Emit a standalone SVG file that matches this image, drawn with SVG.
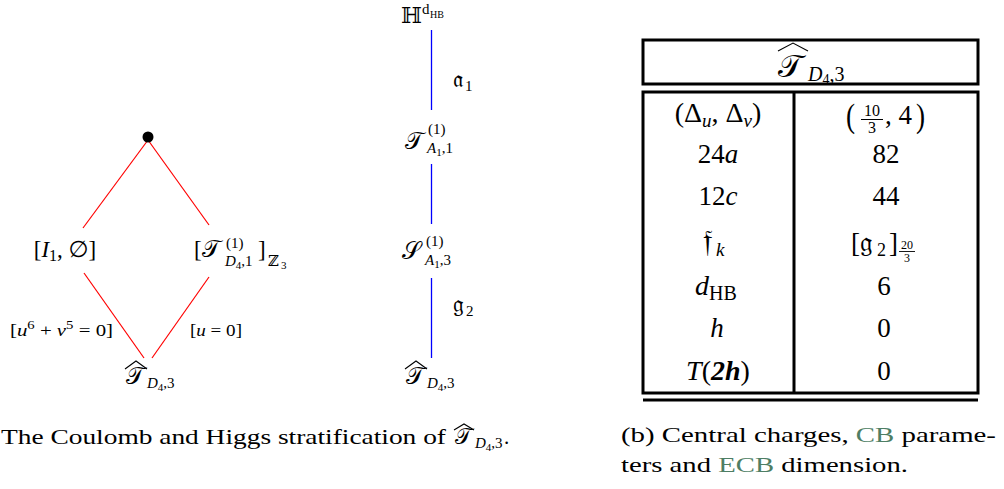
<svg xmlns="http://www.w3.org/2000/svg" width="1004" height="489" viewBox="0 0 1004 489">
<style>
text{font-family:"Liberation Serif","DejaVu Serif",serif;fill:#000}
.i{font-style:italic}
.sym{font-family:"DejaVu Serif","DejaVu Sans","Noto Sans",serif;font-style:normal}
.hat{fill:none;stroke:#000;stroke-width:1.1}
.red{stroke:#ff0000;stroke-width:1.2}
.blue{stroke:#0000ff;stroke-width:1.3}
.tb{fill:none;stroke:#000;stroke-width:3}
.grn{fill:#4e7e64}
</style>
<rect width="1004" height="489" fill="#fff"/>

<g id="connectors">
<line class="red" x1="148" y1="140" x2="83" y2="228"/>
<line class="red" x1="148" y1="140" x2="209" y2="225"/>
<line class="red" x1="84" y1="273" x2="144" y2="358"/>
<line class="red" x1="209" y1="277" x2="152" y2="358"/>
<line class="blue" x1="431.5" y1="30" x2="431.5" y2="110"/>
<line class="blue" x1="431.5" y1="164" x2="431.5" y2="224"/>
<line class="blue" x1="431.5" y1="278" x2="431.5" y2="358"/>
</g>

<g id="edge-labels">
<text x="10" y="336" font-size="17" textLength="103" lengthAdjust="spacingAndGlyphs">[<tspan class="i">u</tspan><tspan font-size="12" dy="-7">6</tspan><tspan dy="7"> + </tspan><tspan class="i">v</tspan><tspan font-size="12" dy="-7">5</tspan><tspan dy="7"> = 0]</tspan></text>
<text x="190" y="336" font-size="17" textLength="52" lengthAdjust="spacingAndGlyphs">[<tspan class="i">u</tspan> = 0]</text>
<text class="sym" x="453" y="87" font-size="24">𝔞</text><text x="465" y="91" font-size="15">1</text>
<text class="sym" x="453" y="312" font-size="24">𝔤</text><text x="466" y="316" font-size="15">2</text>
</g>

<g id="node-top">
<circle cx="148" cy="137" r="5.5" fill="#000"/>
</g>

<g id="node-I1">
<text x="65" y="257" font-size="23" text-anchor="middle">[<tspan class="i">I</tspan><tspan font-size="16" dy="4">1</tspan><tspan dy="-4">, </tspan><tspan class="sym">∅</tspan>]</text>
</g>

<g id="node-TD41">
<text x="194" y="257" font-size="23">[</text>
<text class="sym" x="202" y="257" font-size="24">𝒯</text>
<text x="226" y="248" font-size="15">(1)</text>
<text x="225" y="266" font-size="15"><tspan class="i">D</tspan><tspan font-size="11" dy="3">4</tspan><tspan dy="-3">,1</tspan></text>
<text x="258" y="257" font-size="23">]</text>
<text class="sym" x="268" y="266" font-size="15">ℤ</text>
<text x="281" y="269" font-size="11">3</text>
</g>

<g id="node-bottom-left">
<text class="sym" x="126" y="384" font-size="24">𝒯</text>
<polyline class="hat" points="125,369 136,361 147,369"/>
<text x="147" y="388" font-size="15"><tspan class="i">D</tspan><tspan font-size="11" dy="3">4</tspan><tspan dy="-3">,3</tspan></text>
</g>

<g id="node-H">
<text class="sym" x="401" y="23" font-size="22">ℍ</text>
<text x="422" y="14" font-size="15">d</text>
<text x="430" y="18" font-size="10">HB</text>
</g>

<g id="node-TA11">
<text class="sym" x="405" y="149" font-size="24">𝒯</text>
<text x="428" y="134" font-size="15">(1)</text>
<text x="427" y="153" font-size="15"><tspan class="i">A</tspan><tspan font-size="11" dy="3">1</tspan><tspan dy="-3">,1</tspan></text>
</g>

<g id="node-SA13">
<text class="sym" x="402" y="259" font-size="24">𝒮</text>
<text x="426" y="246" font-size="15">(1)</text>
<text x="425" y="265" font-size="15"><tspan class="i">A</tspan><tspan font-size="11" dy="3">1</tspan><tspan dy="-3">,3</tspan></text>
</g>

<g id="node-bottom-mid">
<text class="sym" x="406" y="384" font-size="24">𝒯</text>
<polyline class="hat" points="405,369 416,361 427,369"/>
<text x="427" y="388" font-size="15"><tspan class="i">D</tspan><tspan font-size="11" dy="3">4</tspan><tspan dy="-3">,3</tspan></text>
</g>

<g id="table">
<rect class="tb" x="643" y="40" width="335" height="44"/>
<rect class="tb" x="643" y="92" width="335" height="301"/>
<line class="tb" x1="794" y1="92" x2="794" y2="393"/>
<line class="tb" x1="643" y1="400" x2="978" y2="400"/>
<text class="sym" x="778" y="77" font-size="32">𝒯</text>
<polyline class="hat" points="778,51 793,43 808,51"/>
<text x="808" y="81" font-size="20"><tspan class="i">D</tspan><tspan font-size="14" dy="3">4</tspan><tspan dy="-3">,3</tspan></text>

<text x="718" y="122" font-size="28" text-anchor="middle">(Δ<tspan class="i" font-size="19" dy="5">u</tspan><tspan dy="-5">, Δ</tspan><tspan class="i" font-size="19" dy="5">v</tspan><tspan dy="-5">)</tspan></text>
<text x="846" y="127" font-size="34" transform="translate(846 127) scale(0.8 1) translate(-846 -127)">(</text>
<text x="872" y="116" font-size="16" text-anchor="middle">10</text>
<line x1="861" y1="119.5" x2="883" y2="119.5" stroke="#000" stroke-width="1"/>
<text x="872" y="133" font-size="16" text-anchor="middle">3</text>
<text x="885" y="124" font-size="27">, 4</text>
<text x="916" y="127" font-size="34" transform="translate(916 127) scale(0.8 1) translate(-916 -127)">)</text>

<text x="718" y="163" font-size="27" text-anchor="middle">24<tspan class="i">a</tspan></text>
<text x="886" y="163" font-size="27" text-anchor="middle">82</text>
<text x="718" y="205" font-size="27" text-anchor="middle">12<tspan class="i">c</tspan></text>
<text x="886" y="205" font-size="27" text-anchor="middle">44</text>

<text class="sym" x="703" y="252" font-size="32">𝔣</text>
<text class="i" x="716" y="256" font-size="19">k</text>
<text x="851" y="252" font-size="27">[</text>
<text class="sym" x="860" y="252" font-size="28">𝔤</text>
<text x="877" y="256" font-size="18">2</text>
<text x="889" y="252" font-size="27">]</text>
<text x="907" y="249" font-size="12" text-anchor="middle">20</text>
<line x1="899" y1="251.5" x2="915" y2="251.5" stroke="#000" stroke-width="0.9"/>
<text x="907" y="262" font-size="12" text-anchor="middle">3</text>

<text x="695" y="295" font-size="28"><tspan class="i">d</tspan><tspan font-size="20" dy="5">HB</tspan></text>
<text x="884" y="295" font-size="27" text-anchor="middle">6</text>
<text class="i" x="717" y="337" font-size="27" text-anchor="middle">h</text>
<text x="884" y="337" font-size="27" text-anchor="middle">0</text>
<text x="718" y="380" font-size="28" text-anchor="middle"><tspan class="i">T</tspan>(<tspan font-weight="bold" font-style="italic">2h</tspan>)</text>
<text x="884" y="380" font-size="27" text-anchor="middle">0</text>
</g>

<g id="captions">
<text x="1" y="444" font-size="21" textLength="445" lengthAdjust="spacingAndGlyphs">The Coulomb and Higgs stratification of</text>
<text class="sym" x="455" y="444" font-size="22">𝒯</text>
<polyline class="hat" points="454,430 464,424 474,430"/>
<text x="475" y="448" font-size="15"><tspan class="i">D</tspan><tspan font-size="11" dy="3">4</tspan><tspan dy="-3">,3</tspan></text>
<text x="504" y="444" font-size="21">.</text>

<text x="621" y="442" font-size="21" textLength="375" lengthAdjust="spacingAndGlyphs">(b) Central charges, <tspan class="grn">CB</tspan> parame-</text>
<text x="621" y="472" font-size="21" textLength="287" lengthAdjust="spacingAndGlyphs">ters and <tspan class="grn">ECB</tspan> dimension.</text>
</g>
</svg>
